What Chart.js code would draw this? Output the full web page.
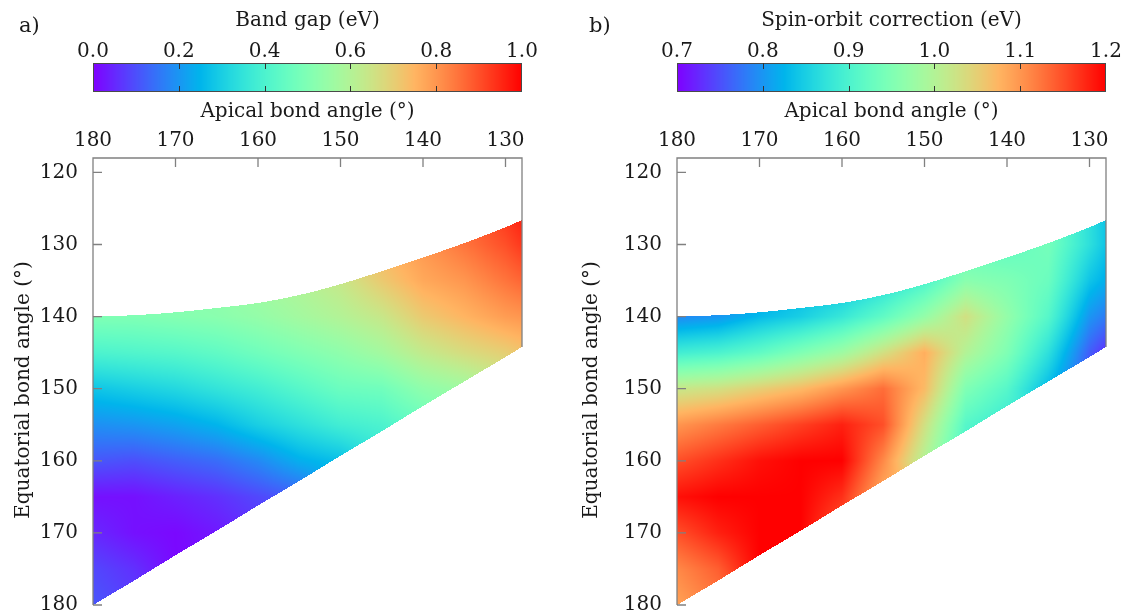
<!DOCTYPE html>
<html>
<head>
<meta charset="utf-8">
<script src="https://cdn.jsdelivr.net/npm/chart.js@4"></script>
<style>
  body { margin: 0; background: #fff; }
  #wrap { position: relative; width: 1125px; height: 614px; }
  canvas { position: absolute; top: 0; }
  #panelA { left: 0; }
  #panelB { left: 560px; }
</style>
</head>
<body>
<div id="wrap">
  <canvas id="panelA" width="540" height="614"></canvas>
  <canvas id="panelB" width="565" height="614"></canvas>
</div>
<script>
// grid nodes (degrees)
const apicalNodes = [180, 175, 170, 165, 160, 155, 150, 145, 140, 135, 130, 128];
const equatorialNodes = [125, 130, 135, 140, 145, 150, 155, 160, 165, 170, 175, 180];

// borders of the computed region, one value per apical node
const topEdge = [140.0, 139.8, 139.4, 138.8, 138.1, 137.0, 135.5, 133.7, 131.8, 129.8, 127.6, 126.6];
const bottomEdge = [180.0, 176.6, 173.1, 169.7, 166.2, 162.8, 159.3, 155.9, 152.4, 149.0, 145.6, 144.2];

const apicalTicks = [180, 170, 160, 150, 140, 130];
const equatorialTicks = [120, 130, 140, 150, 160, 170, 180];
const bandGapTicks = [0.0, 0.2, 0.4, 0.6, 0.8, 1.0];
const spinOrbitTicks = [0.7, 0.8, 0.9, 1.0, 1.1, 1.2];

const n = null;
// rows: apical nodes, columns: equatorial nodes (eV)
const bandGap = [
  [n,    n,    n,    0.50, 0.40, 0.28, 0.19, 0.11, 0.02, 0.05, 0.09, 0.11],
  [n,    n,    0.51, 0.50, 0.41, 0.30, 0.20, 0.10, 0.02, 0.02, 0.06, 0.08],
  [n,    n,    0.52, 0.51, 0.42, 0.32, 0.22, 0.12, 0.04, 0.01, 0.01, n   ],
  [n,    n,    0.54, 0.52, 0.44, 0.35, 0.25, 0.14, 0.06, 0.03, n,    n   ],
  [n,    n,    0.57, 0.54, 0.47, 0.38, 0.30, 0.18, 0.09, 0.06, n,    n   ],
  [n,    n,    0.60, 0.57, 0.50, 0.42, 0.34, 0.24, 0.12, n,    n,    n   ],
  [n,    n,    0.64, 0.60, 0.53, 0.46, 0.38, 0.27, n,    n,    n,    n   ],
  [n,    0.75, 0.71, 0.64, 0.57, 0.47, 0.40, 0.35, n,    n,    n,    n   ],
  [n,    0.80, 0.77, 0.71, 0.63, 0.53, 0.45, n,    n,    n,    n,    n   ],
  [0.87, 0.85, 0.80, 0.75, 0.67, 0.56, n,    n,    n,    n,    n,    n   ],
  [0.94, 0.90, 0.85, 0.79, 0.70, 0.62, n,    n,    n,    n,    n,    n   ],
  [0.97, 0.93, 0.87, 0.80, 0.72, n,    n,    n,    n,    n,    n,    n   ]
];

const spinOrbit = [
  [n,    n,    n,    0.79, 0.89, 1.02, 1.10, 1.15, 1.19, 1.15, 1.11, 1.09],
  [n,    n,    0.79, 0.80, 0.90, 1.03, 1.12, 1.17, 1.20, 1.18, 1.14, 1.12],
  [n,    n,    0.80, 0.83, 0.92, 1.05, 1.14, 1.19, 1.20, 1.20, 1.20, n   ],
  [n,    n,    0.82, 0.85, 0.95, 1.07, 1.16, 1.20, 1.20, 1.20, n,    n   ],
  [n,    n,    0.83, 0.88, 0.98, 1.10, 1.18, 1.20, 1.17, 1.14, n,    n   ],
  [n,    n,    0.86, 0.92, 1.03, 1.13, 1.15, 1.11, 1.08, n,    n,    n   ],
  [n,    n,    0.90, 0.97, 1.08, 1.07, 1.03, 1.00, n,    n,    n,    n   ],
  [n,    0.92, 0.96, 1.03, 1.00, 0.95, 0.91, 0.89, n,    n,    n,    n   ],
  [n,    0.92, 0.95, 0.97, 0.95, 0.91, 0.88, n,    n,    n,    n,    n   ],
  [0.94, 0.94, 0.93, 0.91, 0.87, 0.83, n,    n,    n,    n,    n,    n   ],
  [0.87, 0.87, 0.84, 0.80, 0.76, 0.74, n,    n,    n,    n,    n,    n   ],
  [0.84, 0.84, 0.82, 0.78, 0.73, n,    n,    n,    n,    n,    n,    n   ]
];

Chart.defaults.font.family = "'DejaVu Serif', serif";
Chart.defaults.font.size = 20;
Chart.defaults.color = '#1a1a1a';

const FRAME = '#808080';

// matplotlib-style "rainbow" colour map
function rainbow(t) {
  t = Math.max(0, Math.min(1, t));
  const r = Math.min(1, Math.abs(2 * t - 0.5));
  const g = Math.sin(Math.PI * t);
  const b = Math.cos(Math.PI * t / 2);
  return [Math.round(r * 255), Math.round(g * 255), Math.round(b * 255)];
}

function bracket(nodes, v) {
  for (let i = 0; i < nodes.length - 1; i++) {
    const a = nodes[i], b = nodes[i + 1];
    if ((v - a) * (v - b) <= 0) return [i, (v - a) / (b - a)];
  }
  const asc = nodes[1] > nodes[0];
  const low = asc ? v < nodes[0] : v > nodes[0];
  return low ? [0, 0] : [nodes.length - 2, 1];
}

// smooth curve through the edge points (cubic hermite, like a tension line)
function slope(edge, k) {
  const last = edge.length - 1;
  const a = Math.max(0, k - 1), b = Math.min(last, k + 1);
  return (edge[b] - edge[a]) / (apicalNodes[b] - apicalNodes[a]);
}
function edgeAt(edge, i, t) {
  const h = apicalNodes[i + 1] - apicalNodes[i];
  const m0 = slope(edge, i) * h, m1 = slope(edge, i + 1) * h;
  const t2 = t * t, t3 = t2 * t;
  return (2 * t3 - 3 * t2 + 1) * edge[i] + (t3 - 2 * t2 + t) * m0 +
         (-2 * t3 + 3 * t2) * edge[i + 1] + (t3 - t2) * m1;
}

function sample(grid, i, t, j, u) {
  const corners = [
    [i, j, (1 - t) * (1 - u)], [i + 1, j, t * (1 - u)],
    [i, j + 1, (1 - t) * u], [i + 1, j + 1, t * u]
  ];
  let sum = 0, wsum = 0;
  corners.forEach(([a, b, w]) => {
    const v = grid[a][b];
    if (v === null || v === undefined) return;
    sum += v * (w + 1e-6);
    wsum += w + 1e-6;
  });
  return wsum > 0 ? sum / wsum : null;
}

const heatmapPlugin = {
  id: 'heatmap',
  beforeDatasetsDraw(chart, args, opts) {
    const {ctx, chartArea: area, scales: {x, y}} = chart;
    const left = Math.round(area.left), top = Math.round(area.top);
    const w = Math.round(area.right) - left, h = Math.round(area.bottom) - top;
    const off = document.createElement('canvas');
    off.width = w; off.height = h;
    const octx = off.getContext('2d');
    const img = octx.createImageData(w, h);
    const cols = [];
    for (let px = 0; px < w; px++) {
      const a = x.getValueForPixel(left + px + 0.5);
      const [i, t] = bracket(apicalNodes, a);
      cols.push({i, t, lo: edgeAt(topEdge, i, t), hi: edgeAt(bottomEdge, i, t)});
    }
    for (let py = 0; py < h; py++) {
      const e = y.getValueForPixel(top + py + 0.5);
      const [j, u] = bracket(equatorialNodes, e);
      for (let px = 0; px < w; px++) {
        const c = cols[px];
        if (e < c.lo || e > c.hi) continue;
        const v = sample(opts.values, c.i, c.t, j, u);
        if (v === null) continue;
        const [r, g, b] = rainbow((v - opts.min) / (opts.max - opts.min));
        const k = (py * w + px) * 4;
        img.data[k] = r; img.data[k + 1] = g; img.data[k + 2] = b; img.data[k + 3] = 255;
      }
    }
    octx.putImageData(img, 0, 0);
    ctx.drawImage(off, left, top);
  }
};

const decorPlugin = {
  id: 'decor',
  afterDraw(chart, args, opts) {
    const {ctx, chartArea: area, scales: {x, y, cb}} = chart;
    ctx.save();

    // frame: left, top, and right side down to the end of the data
    ctx.strokeStyle = FRAME;
    ctx.lineWidth = 1.3;
    ctx.beginPath();
    ctx.moveTo(area.left, area.bottom);
    ctx.lineTo(area.left, area.top);
    ctx.lineTo(area.right, area.top);
    ctx.lineTo(area.right, y.getPixelForValue(bottomEdge[bottomEdge.length - 1]));
    equatorialTicks.forEach(v => {
      const py = y.getPixelForValue(v);
      ctx.moveTo(area.left, py);
      ctx.lineTo(area.left + 9, py);
    });
    apicalTicks.forEach(v => {
      const px = x.getPixelForValue(v);
      ctx.moveTo(px, area.top);
      ctx.lineTo(px, area.top + 9);
    });
    ctx.stroke();

    // colour bar
    const y1 = Math.round(cb.bottom), y0 = y1 - 29;
    for (let px = Math.round(cb.left); px < Math.round(cb.right); px++) {
      const v = cb.getValueForPixel(px + 0.5);
      const [r, g, b] = rainbow((v - cb.min) / (cb.max - cb.min));
      ctx.fillStyle = `rgb(${r},${g},${b})`;
      ctx.fillRect(px, y0, 1, y1 - y0);
    }
    ctx.strokeStyle = '#4a4a4a';
    ctx.lineWidth = 1;
    ctx.strokeRect(Math.round(cb.left) + 0.5, y0 + 0.5, Math.round(cb.right) - Math.round(cb.left) - 1, y1 - y0 - 1);
    ctx.strokeStyle = '#333';
    ctx.beginPath();
    opts.cbTicks.slice(1, -1).forEach(v => {
      const px = Math.round(cb.getPixelForValue(v)) + 0.5;
      ctx.moveTo(px, y0); ctx.lineTo(px, y0 + 6);
      ctx.moveTo(px, y1 - 6); ctx.lineTo(px, y1);
    });
    ctx.stroke();

    // panel letter and vertical axis title
    ctx.fillStyle = '#1a1a1a';
    ctx.font = "21px 'DejaVu Serif', serif";
    ctx.textBaseline = 'middle';
    ctx.textAlign = 'left';
    ctx.fillText(opts.letter, opts.letterX, 27);
    ctx.font = "20px 'DejaVu Serif', serif";
    ctx.translate(opts.yTitleX, 390);
    ctx.rotate(-Math.PI / 2);
    ctx.textAlign = 'center';
    ctx.fillText('Equatorial bond angle (°)', 0, 0);
    ctx.restore();
  }
};

function zeroPad(s) {
  s.paddingLeft = 0; s.paddingRight = 0; s.paddingTop = 0; s.paddingBottom = 0;
}

function makePanel(id, p) {
  const nodes = [];
  apicalNodes.forEach((a, i) => equatorialNodes.forEach((e, j) => {
    if (p.values[i][j] !== null) nodes.push({x: a, y: e, v: p.values[i][j]});
  }));
  return new Chart(document.getElementById(id), {
    type: 'scatter',
    data: { datasets: [{ label: p.title, data: nodes, pointRadius: 0, pointHoverRadius: 0 }] },
    options: {
      responsive: false,
      animation: false,
      events: [],
      layout: { padding: { left: 0, right: p.padRight, top: 0, bottom: 9 } },
      plugins: {
        legend: { display: false },
        tooltip: { enabled: false },
        heatmap: { values: p.values, min: p.min, max: p.max },
        decor: { letter: p.letter, letterX: p.letterX, yTitleX: p.yTitleX, cbTicks: p.ticks }
      },
      scales: {
        cb: {
          type: 'linear', position: 'top', weight: 2, min: p.min, max: p.max,
          afterBuildTicks: s => { s.ticks = p.ticks.map(v => ({value: v})); },
          afterFit: s => { s.height = 92; zeroPad(s); },
          grid: { display: false, drawTicks: false },
          border: { display: false },
          ticks: { padding: 28, maxRotation: 0, autoSkip: false, callback: v => v.toFixed(1) },
          title: { display: true, text: p.title, padding: { top: 9, bottom: 0 } }
        },
        x: {
          type: 'linear', position: 'top', weight: 1, reverse: true, min: 128, max: 180,
          afterBuildTicks: s => { s.ticks = apicalTicks.map(v => ({value: v})); },
          afterFit: s => { s.height = 66; zeroPad(s); },
          grid: { display: false, drawTicks: false },
          border: { display: false },
          ticks: { padding: 5, maxRotation: 0, autoSkip: false },
          title: { display: true, text: 'Apical bond angle (°)', padding: { top: 8, bottom: 0 } }
        },
        y: {
          type: 'linear', position: 'left', reverse: true, min: 118, max: 180,
          afterBuildTicks: s => { s.ticks = equatorialTicks.map(v => ({value: v})); },
          afterFit: s => { s.width = p.axisLeft; zeroPad(s); },
          grid: { display: false, drawTicks: false },
          border: { display: false },
          ticks: { padding: 15, autoSkip: false }
        }
      }
    },
    plugins: [heatmapPlugin, decorPlugin]
  });
}

makePanel('panelA', {
  title: 'Band gap (eV)', values: bandGap, min: 0.0, max: 1.0, ticks: bandGapTicks,
  letter: 'a)', letterX: 19, yTitleX: 24, axisLeft: 93, padRight: 18
});
makePanel('panelB', {
  title: 'Spin-orbit correction (eV)', values: spinOrbit, min: 0.7, max: 1.2, ticks: spinOrbitTicks,
  letter: 'b)', letterX: 29, yTitleX: 32, axisLeft: 117, padRight: 19
});
</script>
</body>
</html>
